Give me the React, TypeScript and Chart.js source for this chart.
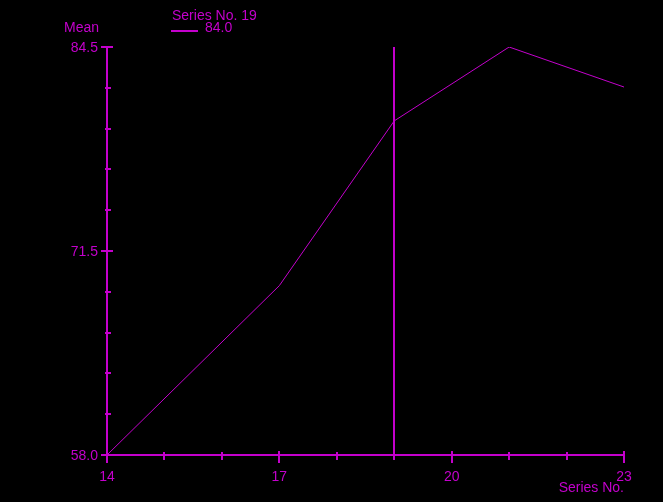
import React, { useEffect, useRef } from "react";
import { Chart, registerables } from "chart.js";

Chart.register(...registerables);

// ---- data ----
const seriesNo = [14, 17, 19, 21, 23];
const meanValues = [58.0, 69.0, 79.7, 84.5, 81.9];

const xMin = 14;
const xMax = 23;
const xMajorTicks = [14, 17, 20, 23];
const xTickLabels = ["14", "17", "20", "23"];
const xMinorTicks = [15, 16, 18, 19, 21, 22];

const yMin = 58.0;
const yMax = 84.5;
const yMajorTicks = [58.0, 71.25, 84.5];
const yTickLabels = ["58.0", "71.5", "84.5"];
const yMinorCount = 10; // intervals between min and max

const cursorX = 19;
const legendTitle = "Series No. 19";
const legendValue = "84.0";
const yTitle = "Mean";
const xTitle = "Series No.";

const MAGENTA = "#c400cc";
const FONT = "14px 'Liberation Sans', Arial, sans-serif";

const axesPlugin = {
  id: "oldAxes",
  beforeDatasetsDraw(chart: any) {
    const { ctx, chartArea } = chart;
    const xs = chart.scales.x;
    const ys = chart.scales.y;
    const left = Math.round(xs.getPixelForValue(xMin));
    const right = Math.round(xs.getPixelForValue(xMax));
    const top = Math.round(ys.getPixelForValue(yMax));
    const bottom = Math.round(ys.getPixelForValue(yMin));
    ctx.save();
    ctx.fillStyle = MAGENTA;
    // y axis line (extends below as the x major tick at 14)
    ctx.fillRect(left - 1, top, 2, bottom - top + 8);
    // x axis line (extends left as the y major tick at min)
    ctx.fillRect(left - 5, bottom - 1, right - left + 6, 2);
    // y major ticks
    yMajorTicks.forEach((v) => {
      const py = Math.round(ys.getPixelForValue(v));
      ctx.fillRect(left - 6, py - 1, 12, 2);
    });
    // y minor ticks
    for (let i = 1; i < yMinorCount; i++) {
      if (i === yMinorCount / 2) continue;
      const v = yMin + ((yMax - yMin) * i) / yMinorCount;
      const py = Math.round(ys.getPixelForValue(v));
      ctx.fillRect(left - 2, py - 1, 6, 2);
    }
    // x major ticks
    xMajorTicks.forEach((v) => {
      const px = Math.round(xs.getPixelForValue(v));
      ctx.fillRect(px - 1, bottom - 4, 2, 12);
    });
    // x minor ticks
    xMinorTicks.forEach((v) => {
      const px = Math.round(xs.getPixelForValue(v));
      ctx.fillRect(px - 1, bottom - 3, 2, 8);
    });
    // cursor line
    const cx = Math.round(xs.getPixelForValue(cursorX));
    ctx.fillRect(cx - 1, top, 2, bottom - top);
    ctx.restore();
  },
  afterDraw(chart: any) {
    const { ctx } = chart;
    const xs = chart.scales.x;
    const ys = chart.scales.y;
    const left = xs.getPixelForValue(xMin);
    const right = xs.getPixelForValue(xMax);
    const bottom = ys.getPixelForValue(yMin);
    ctx.save();
    ctx.fillStyle = MAGENTA;
    ctx.font = FONT;
    ctx.textBaseline = "alphabetic";
    // y tick labels
    ctx.textAlign = "right";
    yMajorTicks.forEach((v, i) => {
      const py = ys.getPixelForValue(v);
      ctx.fillText(yTickLabels[i], left - 9, py + 5);
    });
    // x tick labels
    ctx.textAlign = "center";
    xMajorTicks.forEach((v, i) => {
      const px = xs.getPixelForValue(v);
      ctx.fillText(xTickLabels[i], px, bottom + 26);
    });
    // axis titles
    ctx.textAlign = "left";
    ctx.fillText(yTitle, left - 43, 32);
    ctx.textAlign = "right";
    ctx.fillText(xTitle, right, bottom + 37);
    // legend
    ctx.textAlign = "left";
    ctx.fillText(legendTitle, 172, 20);
    ctx.fillRect(171, 30, 27, 2);
    ctx.fillText(legendValue, 205, 32);
    ctx.restore();
  },
};

export default function App() {
  const ref = useRef<HTMLCanvasElement | null>(null);
  useEffect(() => {
    if (!ref.current) return;
    const chart = new Chart(ref.current, {
      type: "line",
      data: {
        datasets: [
          {
            data: seriesNo.map((x, i) => ({ x, y: meanValues[i] })),
            borderColor: MAGENTA,
            borderWidth: 1,
            pointRadius: 0,
            tension: 0,
            fill: false,
          },
        ],
      },
      options: {
        animation: false,
        responsive: false,
        devicePixelRatio: 1,
        layout: { padding: { left: 107, right: 39, top: 47, bottom: 47 } },
        plugins: { legend: { display: false }, tooltip: { enabled: false } },
        scales: {
          x: { type: "linear", min: xMin, max: xMax, display: false },
          y: { type: "linear", min: yMin, max: yMax, display: false },
        },
      },
      plugins: [axesPlugin],
    });
    return () => chart.destroy();
  }, []);
  return (
    <div
      style={{
        position: "fixed",
        left: 0,
        top: 0,
        width: 663,
        height: 502,
        background: "#000",
      }}
    >
      <canvas ref={ref} width={663} height={502} style={{ display: "block" }} />
    </div>
  );
}
